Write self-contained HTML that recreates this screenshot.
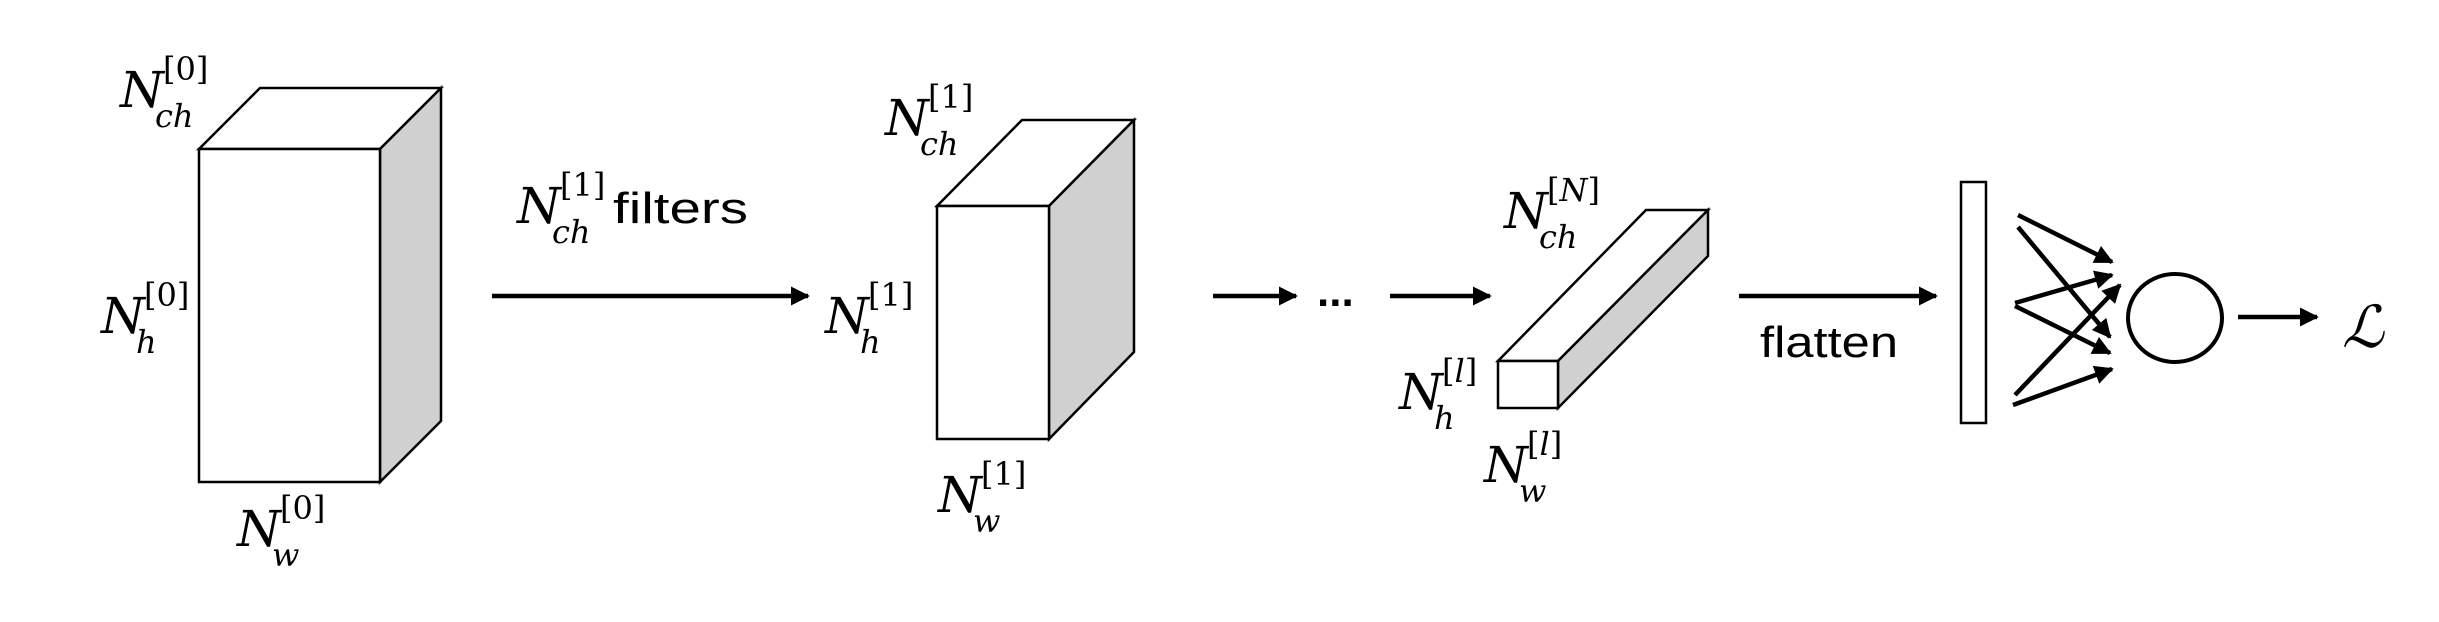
<!DOCTYPE html>
<html><head><meta charset="utf-8"><style>
html,body{margin:0;padding:0;background:#fff;}
svg{display:block;}
.m{font-family:"DejaVu Serif","Liberation Serif",serif;font-style:italic;}
.N{font-size:50px;}
.s{font-size:32px;}
.t{font-family:"Liberation Sans",sans-serif;font-size:44px;}
</style></head><body>
<svg width="2439" height="622" viewBox="0 0 2439 622" xmlns="http://www.w3.org/2000/svg">
<defs>
<marker id="ah" viewBox="0 0 10 10" refX="9" refY="5" markerWidth="4.8" markerHeight="4.2" orient="auto" markerUnits="strokeWidth">
<path d="M0,0 L10,5 L0,10 z" fill="#000"/></marker>
</defs>
<g stroke="#000" stroke-width="2.5" stroke-linejoin="miter">
<polygon points="199,149 260,88 441,88 380,149" fill="#fff"/>
<polygon points="380,149 441,88 441,421 380,482" fill="#d0d0d0"/>
<rect x="199" y="149" width="181" height="333" fill="#fff"/>
<polygon points="937,206 1022,120 1134,120 1049,206" fill="#fff"/>
<polygon points="1049,206 1134,120 1134,352 1049,439" fill="#d0d0d0"/>
<rect x="937" y="206" width="112" height="233" fill="#fff"/>
<polygon points="1498,361 1646,210 1708,210 1558,361" fill="#fff"/>
<polygon points="1558,361 1708,210 1708,256 1558,408" fill="#d0d0d0"/>
<rect x="1498" y="361" width="60" height="47" fill="#fff"/>
<rect x="1961" y="182" width="25" height="241" fill="#fff"/>
<ellipse cx="2175" cy="318" rx="47" ry="44" fill="none" stroke-width="4"/>
</g>
<g stroke="#000" stroke-width="4.5" fill="none" marker-end="url(#ah)">
<line x1="492" y1="296" x2="808" y2="296"/>
<line x1="1213" y1="296" x2="1296" y2="296"/>
<line x1="1390" y1="296" x2="1490" y2="296"/>
<line x1="1739" y1="296" x2="1936" y2="296"/>
<line x1="2018" y1="215" x2="2112" y2="262"/>
<line x1="2018" y1="227" x2="2110" y2="337"/>
<line x1="2015" y1="303" x2="2112" y2="275"/>
<line x1="2015" y1="306" x2="2110" y2="353"/>
<line x1="2015" y1="395" x2="2120" y2="285"/>
<line x1="2013" y1="405" x2="2112" y2="369"/>
<line x1="2238" y1="317" x2="2317" y2="317"/>
</g>
<text x="1317" y="306" class="t" font-size="36" font-weight="bold">...</text>
<g class="m">
<text x="120" y="107" class="N">N</text><text x="155" y="127" class="s">ch</text><text x="163" y="80" class="s" font-style="normal">[0]</text>
<text x="101" y="333" class="N">N</text><text x="136" y="353" class="s">h</text><text x="144" y="306" class="s" font-style="normal">[0]</text>
<text x="237" y="546" class="N">N</text><text x="272" y="566" class="s">w</text><text x="280" y="519" class="s" font-style="normal">[0]</text>
<text x="517" y="223" class="N">N</text><text x="552" y="243" class="s">ch</text><text x="560" y="196" class="s" font-style="normal">[1]</text>
<text x="885" y="135" class="N">N</text><text x="920" y="155" class="s">ch</text><text x="928" y="108" class="s" font-style="normal">[1]</text>
<text x="825" y="333" class="N">N</text><text x="860" y="353" class="s">h</text><text x="868" y="306" class="s" font-style="normal">[1]</text>
<text x="938" y="512" class="N">N</text><text x="973" y="532" class="s">w</text><text x="981" y="485" class="s" font-style="normal">[1]</text>
<text x="1504" y="228" class="N">N</text><text x="1539" y="248" class="s">ch</text><text x="1547" y="201" class="s" font-style="normal">[<tspan font-style="italic">N</tspan>]</text>
<text x="1399" y="409" class="N">N</text><text x="1434" y="429" class="s">h</text><text x="1442" y="382" class="s" font-style="normal">[<tspan font-style="italic">l</tspan>]</text>
<text x="1484" y="482" class="N">N</text><text x="1519" y="502" class="s">w</text><text x="1527" y="455" class="s" font-style="normal">[<tspan font-style="italic">l</tspan>]</text>
<text x="2342" y="347" font-size="58">ℒ</text>
</g>
<text x="613" y="223" class="t" textLength="135" lengthAdjust="spacingAndGlyphs">filters</text>
<text x="1760" y="357" class="t" textLength="138" lengthAdjust="spacingAndGlyphs">flatten</text>
</svg>
</body></html>
